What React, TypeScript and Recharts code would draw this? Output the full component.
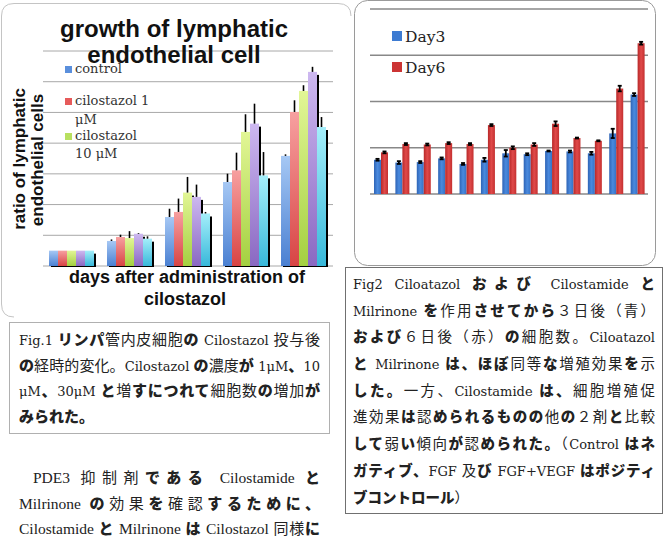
import React from 'react';
import { BarChart, Bar, XAxis, YAxis, CartesianGrid, ErrorBar, Legend } from 'recharts';

// ---------- Fig.1: growth of lymphatic endothelial cell ----------
const growthDays = ['0', '1', '2', '3', '4'];
const controlRatio = [1, 1.63, 3.19, 5.47, 7.17];
const cilo1Ratio = [1, 1.89, 3.52, 6.23, 10.03];
const cilo10Ratio = [1, 1.82, 4.78, 8.73, 11.4];
const cilo30Ratio = [1, 2.1, 4.5, 9.27, 12.64];
const fifthRatio = [1, 1.78, 3.42, 5.9, 9.05];
const controlErr = [0, 0.1, 0.54, 0.54, 0.1];
const cilo1Err = [0, 0.15, 0.87, 1.15, 0.76];
const cilo10Err = [0, 0.45, 1.02, 1.15, 0.37];
const cilo30Err = [0, 0.05, 0.8, 1.3, 0.33];
const fifthErr = [0, 0.15, 0.1, 1.52, 0.65];
const growthTicks = [0, 2, 4, 6, 8, 10, 12, 14];

// ---------- Fig2: cell counts on day 3 and day 6 ----------
const conditionIds = ['1', '2', '3', '4', '5', '6', '7', '8', '9', '10', '11', '12', '13'];
const day3Count = [0.74, 0.68, 0.69, 0.77, 0.65, 0.74, 0.88, 0.86, 0.93, 0.92, 0.88, 1.31, 2.15];
const day6Count = [0.9, 1.08, 1.07, 1.1, 1.08, 1.49, 1.0, 1.07, 1.52, 1.21, 1.15, 2.28, 3.26];
const day3Err = [0.02, 0.03, 0.02, 0.02, 0.02, 0.04, 0.07, 0.02, 0.01, 0.02, 0.03, 0.1, 0.03];
const day6Err = [0.02, 0.02, 0.02, 0.02, 0.02, 0.02, 0.03, 0.03, 0.05, 0.01, 0.01, 0.06, 0.03];
const countTicks = [0, 1, 2, 3, 4];

const growthSeries = [
  { key: 'control', name: 'control', vals: controlRatio, errs: controlErr, grad: 'gBlue', top: '#a6c8f4', bottom: '#4a80d2', swatch: '#5a8fdc' },
  { key: 'cilo1', name: 'cilostazol 1 μM', vals: cilo1Ratio, errs: cilo1Err, grad: 'gRed', top: '#f7a0a0', bottom: '#d84444', swatch: '#e65a5a' },
  { key: 'cilo10', name: 'cilostazol 10 μM', vals: cilo10Ratio, errs: cilo10Err, grad: 'gGreen', top: '#e2f696', bottom: '#a4d040', swatch: '#b8e060' },
  { key: 'cilo30', name: 'cilostazol 30 μM', vals: cilo30Ratio, errs: cilo30Err, grad: 'gPurple', top: '#cdb8f0', bottom: '#8a68c2', swatch: '#a688d8' },
  { key: 'fifth', name: 'series 5', vals: fifthRatio, errs: fifthErr, grad: 'gCyan', top: '#a4eefa', bottom: '#38b8da', swatch: '#60d0ec' },
];

const SANS = '"Liberation Sans", Arial, sans-serif';
const SERIF = '"DejaVu Serif", serif';

// Bar with a dark drop shadow on its right side
const ShadowBar = (props: any) => {
  const { x, y, width, height, fill } = props;
  if (!height || height <= 0) return null;
  return (
    <g>
      <rect x={x + 2} y={y + 3} width={width} height={height - 2} fill="#000" />
      <rect x={x} y={y} width={width} height={height} fill={fill} />
    </g>
  );
};

const GrowthLegend = () => (
  <svg width={200} height={170} style={{ display: 'block', overflow: 'visible' }}>
    <g fontFamily={SERIF} fontSize={13} fill="#333">
      <rect x={65} y={66} width={7} height={7} fill={growthSeries[0].swatch} />
      <text x={75} y={73}>control</text>
      <rect x={65} y={98} width={7} height={7} fill={growthSeries[1].swatch} />
      <text x={75} y={105}>cilostazol 1</text>
      <text x={75} y={124}>μM</text>
      <rect x={65} y={133} width={7} height={7} fill={growthSeries[2].swatch} />
      <text x={75} y={140}>cilostazol</text>
      <text x={75} y={158}>10 μM</text>
    </g>
  </svg>
);

const CountLegend = () => (
  <svg width={120} height={90} style={{ display: 'block', overflow: 'visible' }}>
    <g fontFamily={SERIF} fontSize={15.5} fill="#222">
      <rect x={38} y={31} width={10} height={10} fill="#3d7bd2" />
      <text x={51} y={42}>Day3</text>
      <rect x={38} y={62} width={10} height={10} fill="#cc3434" />
      <text x={51} y={73}>Day6</text>
    </g>
  </svg>
);

// Japanese caption text: kana and 、。 in heavy weight, Latin in serif
const KANA = /^[\u3040-\u30FF\u3001\u3002]/;
const CJK = /^[\u3000-\u303F\u3400-\u9FFF\uFF00-\uFFEF]/;
function Runs({ text, latin }: { text: string; latin: React.CSSProperties }) {
  const parts = text.match(/[\u3040-\u30FF\u3001\u3002]+|[\u3000-\u303F\u3400-\u9FFF\uFF00-\uFFEF]+|[^\u3000-\u9FFF\uFF00-\uFFEF]+/g) || [];
  return (
    <>
      {parts.map((p, i) => {
        if (KANA.test(p)) return <span key={i} style={{ fontWeight: 900 }}>{p}</span>;
        if (CJK.test(p)) return <span key={i}>{p}</span>;
        return <span key={i} style={latin}>{p}</span>;
      })}
    </>
  );
}

function TextLines({ lines, left, top, width, lineHeight, fontSize, latin, justifyLast, indent }: any) {
  return (
    <div style={{ position: 'absolute', left, top, width, fontFamily: '"Noto Sans CJK JP", sans-serif', fontSize, color: '#222' }}>
      {lines.map((ln: string, i: number) => {
        const last = i === lines.length - 1 && !justifyLast;
        return (
          <div
            key={i}
            style={{
              height: lineHeight,
              lineHeight: `${lineHeight}px`,
              whiteSpace: 'nowrap',
              textAlign: last ? 'left' : 'justify',
              textAlignLast: last ? 'left' : 'justify',
              paddingLeft: i === 0 && indent ? indent : 0,
            } as React.CSSProperties}
          >
            <Runs text={ln} latin={latin} />
          </div>
        );
      })}
    </div>
  );
}

const fig1Lines = [
  'Fig.1 リンパ管内皮細胞の Cilostazol 投与後',
  'の経時的変化。Cilostazol の濃度が 1μM、10',
  'μM、30μM と増すにつれて細胞数の増加が',
  'みられた。',
];
const bodyLines = [
  'PDE3 抑制剤である Cilostamide と',
  'Milrinone の効果を確認するために、',
  'Cilostamide と Milrinone は Cilostazol 同様に',
];
const fig2Lines = [
  'Fig2 Ciloatazol および Cilostamide と',
  'Milrinone を作用させてから３日後（青）',
  'および６日後（赤）の細胞数。Ciloatazol',
  'と Milrinone は、ほぼ同等な増殖効果を示',
  'した。一方、Cilostamide は、細胞増殖促',
  '進効果は認められるものの他の２剤と比較',
  'して弱い傾向が認められた。（Control はネ',
  'ガティブ、FGF 及び FGF+VEGF はポジティ',
  'ブコントロール）',
];

export default function App() {
  const growthRows = growthDays.map((day, i) => {
    const row: any = { day };
    growthSeries.forEach((s) => {
      row[s.key] = s.vals[i];
      row[s.key + 'Err'] = [0, s.errs[i]];
    });
    return row;
  });
  const countRows = conditionIds.map((id, i) => ({
    id,
    day3: day3Count[i],
    day6: day6Count[i],
    day3Err: day3Err[i],
    day6Err: day6Err[i],
  }));

  return (
    <div style={{ position: 'absolute', left: 0, top: 0, width: 666, height: 541, background: '#fff', overflow: 'hidden' }}>
      {/* panel outlines */}
      <svg width={666} height={541} style={{ position: 'absolute', left: 0, top: 0 }}>
        <path d="M 14 317 Q 1.5 317 1.5 304 L 1.5 16 Q 1.5 3.5 14 3.5 L 338 3.5 Q 351 3.5 351 16" fill="none" stroke="#c4c4c4" strokeWidth={1} />
        <rect x={354.5} y={0.5} width={301} height={265} rx={13} fill="none" stroke="#9a9a9a" strokeWidth={1} />
      </svg>

      {/* Fig.1 chart */}
      <div style={{ position: 'absolute', left: 0, top: 0 }}>
        <BarChart width={352} height={316} data={growthRows} margin={{ top: 51, right: 19, bottom: 50, left: 43 }} barCategoryGap={6} barGap={0}>
          <defs>
            {growthSeries.map((s) => (
              <linearGradient key={s.grad} id={s.grad} x1="0" y1="0" x2="0" y2="1">
                <stop offset="0%" stopColor={s.top} />
                <stop offset="100%" stopColor={s.bottom} />
              </linearGradient>
            ))}
          </defs>
          <CartesianGrid vertical={false} stroke="#a8a8a8" strokeWidth={1} />
          <XAxis dataKey="day" hide />
          <YAxis hide domain={[0, 14]} ticks={growthTicks} />
          {growthSeries.map((s) => (
            <Bar key={s.key} dataKey={s.key} name={s.name} fill={`url(#${s.grad})`} shape={ShadowBar} isAnimationActive={false}>
              <ErrorBar dataKey={s.key + 'Err'} width={0} stroke="#000" strokeWidth={1.6} direction="y" />
            </Bar>
          ))}
          <Legend layout="vertical" align="center" verticalAlign="middle" content={() => <GrowthLegend />} wrapperStyle={{ left: 0, top: 0, width: 200, height: 170 }} />
          <text x={174} y={37} textAnchor="middle" fontFamily={SANS} fontWeight="bold" fontSize={24} fill="#111">growth of lymphatic</text>
          <text x={174} y={63} textAnchor="middle" fontFamily={SANS} fontWeight="bold" fontSize={24} fill="#111">endothelial cell</text>
          <text x={25} y={159} transform="rotate(-90 25 159)" textAnchor="middle" fontFamily={SANS} fontWeight="bold" fontSize={17} fill="#111">ratio of lymphatic</text>
          <text x={43} y={160} transform="rotate(-90 43 160)" textAnchor="middle" fontFamily={SANS} fontWeight="bold" fontSize={17} fill="#111">endothelial cells</text>
          <text x={187} y={283} textAnchor="middle" fontFamily={SANS} fontWeight="bold" fontSize={18} fill="#111">days after administration of</text>
          <text x={185} y={305} textAnchor="middle" fontFamily={SANS} fontWeight="bold" fontSize={18} fill="#111">cilostazol</text>
        </BarChart>
      </div>

      {/* Fig2 chart */}
      <div style={{ position: 'absolute', left: 354, top: 0 }}>
        <BarChart width={302} height={265} data={countRows} margin={{ top: 9, right: 8, bottom: 71, left: 16 }} barCategoryGap={4} barGap={0}>
          <defs>
            <linearGradient id="cBlue" x1="0" y1="0" x2="1" y2="0">
              <stop offset="0%" stopColor="#2e64b6" />
              <stop offset="50%" stopColor="#4a8ade" />
              <stop offset="100%" stopColor="#3572c6" />
            </linearGradient>
            <linearGradient id="cRed" x1="0" y1="0" x2="1" y2="0">
              <stop offset="0%" stopColor="#b82828" />
              <stop offset="50%" stopColor="#e04a4a" />
              <stop offset="100%" stopColor="#c43030" />
            </linearGradient>
          </defs>
          <CartesianGrid vertical={false} stroke="#888" strokeWidth={1.4} />
          <XAxis dataKey="id" hide />
          <YAxis hide domain={[0, 4]} ticks={countTicks} />
          <Bar dataKey="day3" name="Day3" fill="url(#cBlue)" isAnimationActive={false}>
            <ErrorBar dataKey="day3Err" width={2} stroke="#000" strokeWidth={1.8} direction="y" />
          </Bar>
          <Bar dataKey="day6" name="Day6" fill="url(#cRed)" isAnimationActive={false}>
            <ErrorBar dataKey="day6Err" width={2} stroke="#000" strokeWidth={1.8} direction="y" />
          </Bar>
          <Legend layout="vertical" align="center" verticalAlign="middle" content={() => <CountLegend />} wrapperStyle={{ left: 0, top: 0, width: 120, height: 90 }} />
        </BarChart>
      </div>

      {/* captions */}
      <div style={{ position: 'absolute', left: 9, top: 322, width: 319, height: 110, border: '1px solid #b0b0b0' }} />
      <TextLines lines={fig1Lines} left={19} top={326} width={301} lineHeight={25.5} fontSize={15} latin={{ fontFamily: SERIF, fontSize: 13 }} />
      <TextLines lines={bodyLines} left={19} top={464} width={301} lineHeight={25.5} fontSize={15} justifyLast indent={14} latin={{ fontFamily: '"Liberation Serif", serif', fontSize: 15.5 }} />
      <div style={{ position: 'absolute', left: 345, top: 267, width: 316, height: 245, border: '1px solid #707070' }} />
      <TextLines lines={fig2Lines} left={353} top={270} width={302} lineHeight={26.7} fontSize={14.5} latin={{ fontFamily: SERIF, fontSize: 13 }} />
    </div>
  );
}
